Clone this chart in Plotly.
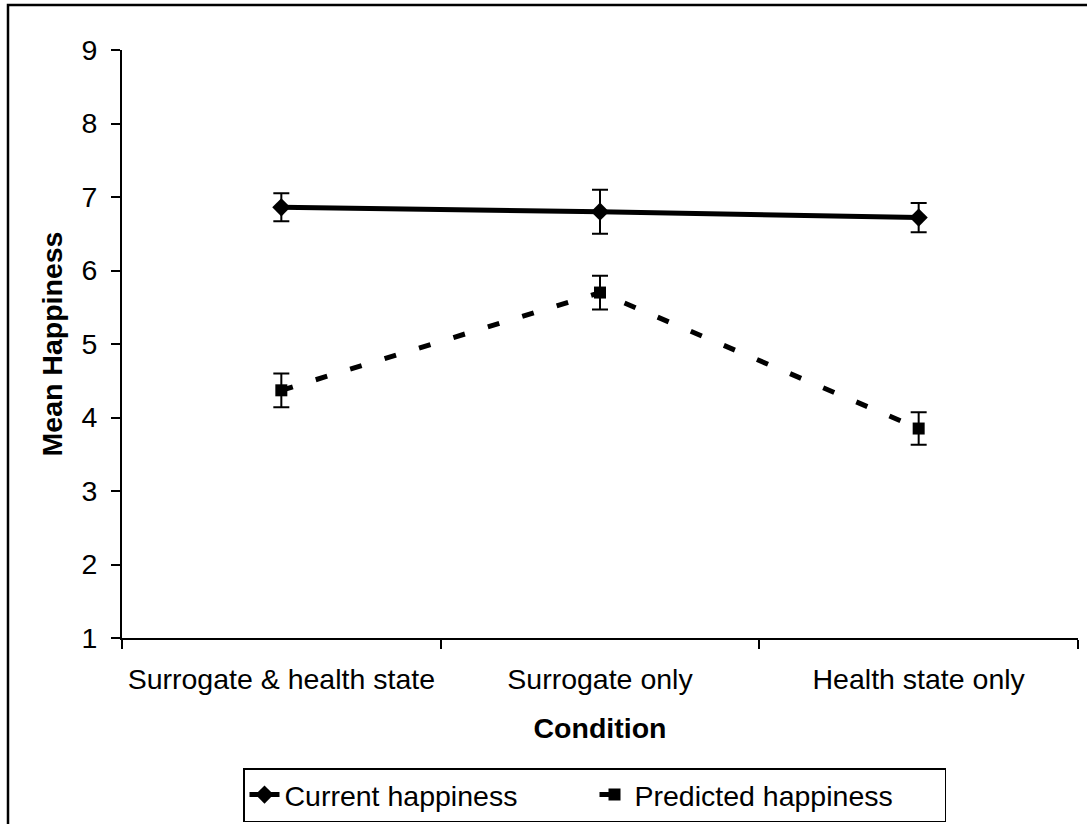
import plotly.graph_objects as go

categories = ["Surrogate & health state", "Surrogate only", "Health state only"]
current = [6.86, 6.80, 6.72]
current_err = [0.19, 0.30, 0.20]
predicted = [4.37, 5.70, 3.85]
predicted_err = [0.23, 0.23, 0.22]
y_ticks = [1, 2, 3, 4, 5, 6, 7, 8, 9]

FONT = "Liberation Sans, Arial, sans-serif"
FS = 28.5

fig = go.Figure()
fig.add_trace(go.Scatter(
    x=categories, y=current, name="Current happiness", mode="lines+markers",
    line=dict(color="black", width=5),
    marker=dict(symbol="diamond", size=14, color="black"),
    error_y=dict(type="data", array=current_err, color="black", thickness=2, width=8),
))
fig.add_trace(go.Scatter(
    x=categories, y=predicted, name="Predicted happiness", mode="lines+markers",
    line=dict(color="black", width=5, dash="12px,24px"),
    marker=dict(symbol="square", size=12, color="black"),
    error_y=dict(type="data", array=predicted_err, color="black", thickness=2, width=8),
))

W, H = 1087, 824
L, R, T, B = 122, 9, 50, 186
pw, ph = W - L - R, H - T - B

def px(x):
    return (x - L) / pw

def py(y):
    return (H - B - y) / ph

fig.add_shape(type="rect", xref="paper", yref="paper",
              x0=px(8), x1=px(1095), y0=py(832), y1=py(5),
              line=dict(color="black", width=2.5), layer="above")

fig.update_layout(
    width=W, height=H,
    margin=dict(l=L, r=R, t=T, b=B, autoexpand=False),
    paper_bgcolor="white", plot_bgcolor="white",
    font=dict(family=FONT, size=FS, color="black"),
    showlegend=True,
    legend=dict(orientation="h", x=px(243), xanchor="left", y=py(822), yanchor="bottom",
                bordercolor="black", borderwidth=1.5, font=dict(size=FS),
                entrywidth=305, entrywidthmode="pixels", tracegroupgap=0),
    xaxis=dict(
        type="category", tickson="boundaries", range=[-0.5, 2.5],
        showline=True, linecolor="black", linewidth=2,
        ticks="outside", ticklen=9, tickcolor="black", tickwidth=2,
        showgrid=False, zeroline=False, automargin=False,
        tickfont=dict(size=FS), ticklabelstandoff=15,
        title=dict(text="<b>Condition</b>", font=dict(size=FS), standoff=24),
    ),
    yaxis=dict(
        range=[1, 9], tickvals=y_ticks,
        showline=True, linecolor="black", linewidth=2,
        ticks="outside", ticklen=9, tickcolor="black", tickwidth=2,
        showgrid=False, zeroline=False, automargin=False,
        tickfont=dict(size=FS), ticklabelstandoff=8,
        title=dict(text="<b>Mean Happiness</b>", font=dict(size=FS), standoff=10),
    ),
)

fig.write_html("out.html", config={"displayModeBar": False},
               post_script="document.body.style.margin='0';")
